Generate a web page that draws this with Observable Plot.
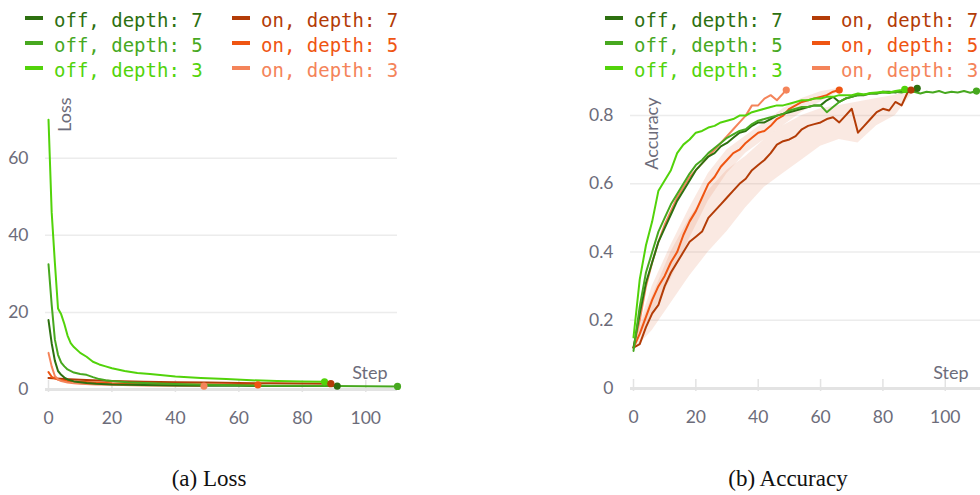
<!DOCTYPE html>
<html><head><meta charset="utf-8">
<script src="https://cdn.jsdelivr.net/npm/d3@7"></script>
<script src="https://cdn.jsdelivr.net/npm/@observablehq/plot@0.6"></script>
<style>
html,body{margin:0;padding:0;background:#fff}
#root{position:relative;width:980px;height:495px;overflow:hidden;font-family:Lato,sans-serif}
.sw{position:absolute;width:18px;height:4px}
.lt{position:absolute;font-family:"DejaVu Sans Mono",monospace;font-size:19px;line-height:20px;white-space:nowrap}
.panel{position:absolute;top:70px}
.panel svg{overflow:visible}
.cap{position:absolute;font-family:"Liberation Serif","Times New Roman",serif;font-size:23px;color:#111;transform:translateX(-50%);white-space:nowrap}
</style>
</head><body><div id="root"></div>
<script>
// ---------- series ----------
const seriesNames = ["off, depth: 7","off, depth: 5","off, depth: 3","on, depth: 7","on, depth: 5","on, depth: 3"];
const seriesColors = ["#2d7010","#47a81f","#52d30a","#b33c07","#ef5512","#f4845a"];
const xTicks = [0,20,40,60,80,100];
const lossTicks = [0,20,40,60];
const accTicks = [0,0.2,0.4,0.6,0.8];

// ---------- loss (step, value) ----------
const lossOff7Steps = [0,1,2,3,4,5,6,8,10,12,15,20,30,40,50,60,70,80,91];
const lossOff7 = [18,12,7.5,4.8,3.8,3.1,2.6,2.1,1.9,1.7,1.5,1.3,1.15,1.05,1.0,0.95,0.92,0.9,0.9];
const lossOff5Steps = [0,1,2,3,4,5,6,8,10,12,14,16,18,20,25,30,40,50,60,70,80,90,100,110];
const lossOff5 = [32.5,22,13,9,7,6,5.2,4.4,4.0,3.8,3.2,2.7,2.4,2.2,1.9,1.7,1.4,1.25,1.1,1.0,0.95,0.9,0.85,0.8];
const lossOff3Steps = [0,1,2,3,4,5,6,7,8,10,12,14,16,18,20,24,28,32,36,40,48,56,64,72,80,87];
const lossOff3 = [70,46,33,21,19.5,17,14,12,11,9.5,8.5,7.2,6.5,6,5.5,4.8,4.3,4.0,3.7,3.4,3.0,2.7,2.4,2.2,2.1,2.0];
const lossOn7Steps = [0,5,10,20,30,40,50,60,70,80,89];
const lossOn7 = [3.0,2.7,2.5,2.2,2.0,1.9,1.8,1.7,1.6,1.55,1.5];
const lossOn5Steps = [0,1,2,3,5,8,10,15,20,30,40,50,60,66];
const lossOn5 = [4.5,3.3,2.9,2.6,2.3,2.1,2.0,1.8,1.6,1.45,1.35,1.3,1.25,1.2];
const lossOn3Steps = [0,1,2,3,4,6,8,10,15,20,30,40,49];
const lossOn3 = [9.5,6,3.5,2.6,2.2,1.8,1.6,1.5,1.3,1.2,1.05,0.95,0.9];

// ---------- accuracy (values every 2 steps, last value at final step) ----------
const accFinalSteps = [91,110,87,89,66,49];
const accOff7 = [0.12,0.22,0.31,0.37,0.43,0.47,0.51,0.55,0.58,0.61,0.64,0.66,0.68,0.69,0.71,0.72,0.735,0.75,0.755,0.77,0.78,0.78,0.79,0.80,0.805,0.81,0.815,0.82,0.825,0.83,0.83,0.845,0.855,0.84,0.85,0.855,0.86,0.86,0.865,0.865,0.87,0.87,0.868,0.872,0.87,0.875,0.88];
const accOff5 = [0.11,0.24,0.34,0.40,0.46,0.50,0.54,0.57,0.60,0.63,0.655,0.67,0.69,0.705,0.72,0.735,0.745,0.755,0.76,0.775,0.785,0.79,0.795,0.80,0.805,0.815,0.82,0.825,0.825,0.83,0.83,0.81,0.825,0.84,0.85,0.855,0.86,0.862,0.865,0.865,0.868,0.866,0.87,0.868,0.872,0.87,0.865,0.87,0.868,0.872,0.866,0.87,0.868,0.872,0.867,0.872];
const accOff3 = [0.15,0.32,0.42,0.49,0.58,0.61,0.64,0.69,0.715,0.73,0.75,0.755,0.765,0.77,0.78,0.785,0.79,0.80,0.80,0.81,0.815,0.82,0.825,0.83,0.83,0.835,0.84,0.845,0.845,0.85,0.85,0.855,0.855,0.86,0.86,0.86,0.865,0.862,0.866,0.868,0.87,0.868,0.872,0.875,0.877];
const accOn7 = [0.12,0.13,0.18,0.22,0.245,0.30,0.34,0.37,0.40,0.43,0.445,0.46,0.50,0.52,0.54,0.56,0.58,0.60,0.615,0.64,0.655,0.67,0.69,0.715,0.725,0.73,0.74,0.76,0.77,0.775,0.78,0.79,0.795,0.78,0.80,0.82,0.75,0.77,0.79,0.81,0.82,0.815,0.84,0.83,0.87,0.875];
const accOn5 = [0.12,0.16,0.21,0.26,0.30,0.33,0.37,0.40,0.45,0.49,0.52,0.56,0.60,0.62,0.65,0.67,0.69,0.70,0.72,0.735,0.75,0.755,0.77,0.79,0.80,0.82,0.83,0.84,0.845,0.85,0.855,0.86,0.87,0.875];
const accOn3 = [0.12,0.20,0.30,0.37,0.43,0.48,0.52,0.56,0.59,0.62,0.64,0.66,0.68,0.70,0.72,0.74,0.76,0.78,0.80,0.83,0.83,0.85,0.86,0.845,0.865,0.875];

// ---------- min/max bands ----------
const bandOn7Steps = [0,6,12,18,24,30,36,42,48,54,60,66,72,78,84,89];
const bandOn7Low = [0.11,0.17,0.25,0.33,0.40,0.46,0.53,0.59,0.63,0.67,0.71,0.73,0.72,0.77,0.80,0.86];
const bandOn7High = [0.13,0.27,0.40,0.50,0.58,0.64,0.68,0.73,0.77,0.80,0.82,0.83,0.84,0.85,0.86,0.88];
const bandOn5Steps = [0,6,12,18,24,30,36,42,48,54,60,66];
const bandOn5Low = [0.11,0.22,0.32,0.44,0.55,0.63,0.69,0.73,0.77,0.81,0.84,0.87];
const bandOn5High = [0.13,0.30,0.42,0.53,0.63,0.70,0.74,0.78,0.82,0.85,0.87,0.88];

// ---------- build rows ----------
const lossSets = [[lossOff7Steps,lossOff7],[lossOff5Steps,lossOff5],[lossOff3Steps,lossOff3],[lossOn7Steps,lossOn7],[lossOn5Steps,lossOn5],[lossOn3Steps,lossOn3]];
const lossRows = [];
lossSets.forEach(([s,v],k)=>s.forEach((st,i)=>lossRows.push({series:seriesNames[k],step:st,value:v[i]})));
const accSets = [accOff7,accOff5,accOff3,accOn7,accOn5,accOn3];
const accRows = [];
accSets.forEach((v,k)=>v.forEach((val,i)=>accRows.push({series:seriesNames[k],step:i<v.length-1?2*i:accFinalSteps[k],value:val})));
const bandRows = [];
bandOn7Steps.forEach((s,i)=>bandRows.push({series:"on, depth: 7",step:s,lo:bandOn7Low[i],hi:bandOn7High[i]}));
bandOn5Steps.forEach((s,i)=>bandRows.push({series:"on, depth: 5",step:s,lo:bandOn5Low[i],hi:bandOn5High[i]}));

const drawOrder = [3,4,5,0,1,2].map(i=>seriesNames[i]);
const ordered = rows => drawOrder.flatMap(n=>rows.filter(r=>r.series===n));
const lastOf = rows => seriesNames.map(n=>{const r=rows.filter(d=>d.series===n);return r[r.length-1];});

const root = document.getElementById("root");
const tickColor = "#6c6c7a";

function panel(opts){
  const {rows, yDomain, yTicks, xDomain, width, marginTop, marginBottom, marginRight, yLabel, labelDx, labelDy, stepDx, stepDy, bands} = opts;
  const marks = [
    Plot.gridY(yTicks.filter(t=>t>0), {stroke:"#ececec", strokeOpacity:1, strokeWidth:1.5, insetLeft:-3}),
  ];
  if (bands) marks.push(Plot.areaY(bands, {x:"step", y1:"lo", y2:"hi", z:"series", fill:"#e8916f", fillOpacity:0.2, curve:"linear"}));
  marks.push(
    Plot.ruleY([0], {stroke:"#e3e3e3", strokeWidth:3, insetLeft:-3}),
    Plot.ruleX(xTicks, {y1:0, y2:0, insetTop:-9, insetBottom:-3, stroke:"#e3e3e3", strokeWidth:1.5}),
    Plot.axisY({ticks:yTicks, tickSize:0, tickPadding:20, label:null, tickFormat:d=>String(d), fill:tickColor}),
    Plot.axisX({ticks:xTicks, tickSize:0, tickPadding:22, label:null, fill:tickColor}),
    Plot.line(ordered(rows), {x:"step", y:"value", z:"series", stroke:"series", strokeWidth:2, curve:"linear"}),
    Plot.dot(lastOf(rows), {x:"step", y:"value", fill:"series", r:3.6}),
    Plot.text([yLabel], {text:d=>d, frameAnchor:"top-left", rotate:-90, textAnchor:"end", lineAnchor:"middle", dx:labelDx, dy:labelDy, fontSize:18, fill:tickColor}),
    Plot.text(["Step"], {text:d=>d, frameAnchor:"bottom-right", textAnchor:"end", lineAnchor:"middle", dx:stepDx, dy:stepDy, fontSize:18, fill:tickColor})
  );
  return Plot.plot({
    width, height:360, marginLeft:48, marginRight, marginTop, marginBottom,
    style:{fontFamily:"Lato, sans-serif", fontSize:"17.5px", background:"transparent", overflow:"visible"},
    x:{domain:xDomain},
    y:{domain:yDomain},
    color:{domain:seriesNames, range:seriesColors},
    marks
  });
}

const lossSvg = panel({rows:lossRows, yDomain:[0,76], yTicks:lossTicks, xDomain:[0,110], width:410, marginTop:26, marginBottom:41, marginRight:13, yLabel:"Loss", labelDx:17, labelDy:1, stepDx:-10, stepDy:-16});
const accSvg = panel({rows:accRows, yDomain:[0,0.9], yTicks:accTicks, xDomain:[0,111.3], width:395, marginTop:11, marginBottom:42, marginRight:0, yLabel:"Accuracy", labelDx:19, labelDy:16, stepDx:-12, stepDy:-15, bands:bandRows});

const p1 = document.createElement("div"); p1.className="panel"; p1.style.left="0px"; p1.appendChild(lossSvg); root.appendChild(p1);
const p2 = document.createElement("div"); p2.className="panel"; p2.style.left="585px"; p2.appendChild(accSvg); root.appendChild(p2);

// legends
[25, 605].forEach(left=>{
  seriesNames.forEach((name,k)=>{
    const col = Math.floor(k/3), row = k%3;
    const x = left + col*207, cy = 20 + row*25;
    const sw = document.createElement("div"); sw.className="sw";
    sw.style.left = x+"px"; sw.style.top = (cy-4)+"px"; sw.style.background = seriesColors[k];
    root.appendChild(sw);
    const t = document.createElement("div"); t.className="lt";
    t.style.left = (x+29)+"px"; t.style.top = (cy-10)+"px"; t.style.color = seriesColors[k];
    t.textContent = name; root.appendChild(t);
  });
});

// captions
[["(a) Loss",209],["(b) Accuracy",788]].forEach(([txt,cx])=>{
  const c = document.createElement("div"); c.className="cap";
  c.style.left = cx+"px"; c.style.top = "466px"; c.textContent = txt; root.appendChild(c);
});
</script>
</body></html>
